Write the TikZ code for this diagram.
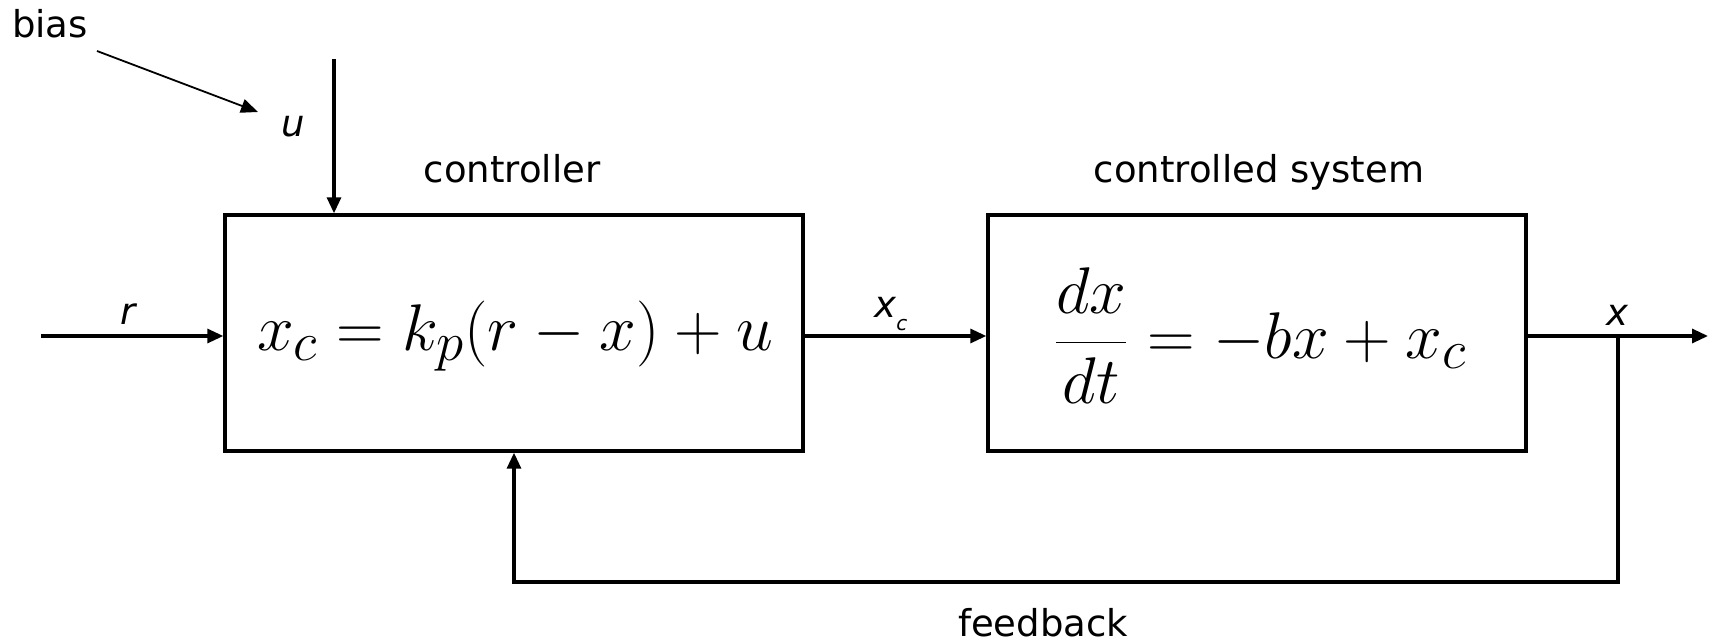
\documentclass[tikz,border=0pt]{standalone}
\usepackage{graphicx}
\usepackage{fontspec}
\newfontfamily\dv{DejaVu Sans}
\usetikzlibrary{arrows.meta}
\newcommand{\eqbig}[1]{\scalebox{1.326}{#1}}
\begin{document}
\begin{tikzpicture}[x=0.5pt,y=-0.5pt,
  blk/.style={draw, line width=1.7pt, minimum height=118pt, inner sep=0pt},
  conn/.style={line width=1.6pt, -{Triangle[length=8pt,width=7pt]}},
  thin conn/.style={line width=0.9pt, -{Triangle[length=8.5pt,width=7pt]}},
  lbl/.style={font=\dv\fontsize{18.5}{22}\selectfont, inner sep=0pt, anchor=base},
  ilbl/.style={lbl, font=\dv\itshape\fontsize{18.5}{22}\selectfont},
  eq/.style={font=\fontsize{24.88}{30}\selectfont, inner sep=0pt}]
\useasboundingbox (0,0) rectangle (1709,642);
% blocks
\node[blk, minimum width=289pt] (ctrl) at (514,333) {};
\node[blk, minimum width=269pt] (sys) at (1257,333) {};
\node[eq] (ctrleq) at (515,336) {\eqbig{$x_c = k_p(r - x) + u$}};
\node[eq] (syseq) at (1260,336) {\eqbig{$\displaystyle\frac{dx}{dt} = -bx + x_c$}};
% titles
\node[lbl] (ctrltitle) at (512,183) {controller};
\node[lbl] (systitle) at (1259,183) {controlled system};
\node[lbl] (fbtitle) at (1043,636) {feedback};
\node[lbl] (biastitle) at (50,38) {bias};
% signal labels
\node[ilbl] (rlbl) at (128,324) {r};
\node[ilbl] (ulbl) at (293,137) {u};
\node[ilbl] (xclbl) at (891,317) {x\raisebox{-6.5pt}{\fontsize{10}{10}\selectfont c}};
\node[ilbl] (xlbl) at (1617,325) {x};
% coordinates
\coordinate (rin) at (41,336);
\coordinate (uin) at (334,59);
\coordinate (bs) at (97,51);
\coordinate (be) at (258,112);
\coordinate (tap) at (1618,336);
\coordinate (fb) at (1618,582);
\coordinate (out) at (1708,336);
% connectors
\draw[conn] (rin) -- (rin -| ctrl.west);
\draw[conn] (uin) -- (uin |- ctrl.north);
\draw[thin conn] (bs) -- (be);
\draw[conn] (rin -| ctrl.east) -- (rin -| sys.west);
\draw[conn] (rin -| sys.east) -- (out);
\draw[conn] (tap) -- (fb) -| (ctrl.south);
\end{tikzpicture}
\end{document}
